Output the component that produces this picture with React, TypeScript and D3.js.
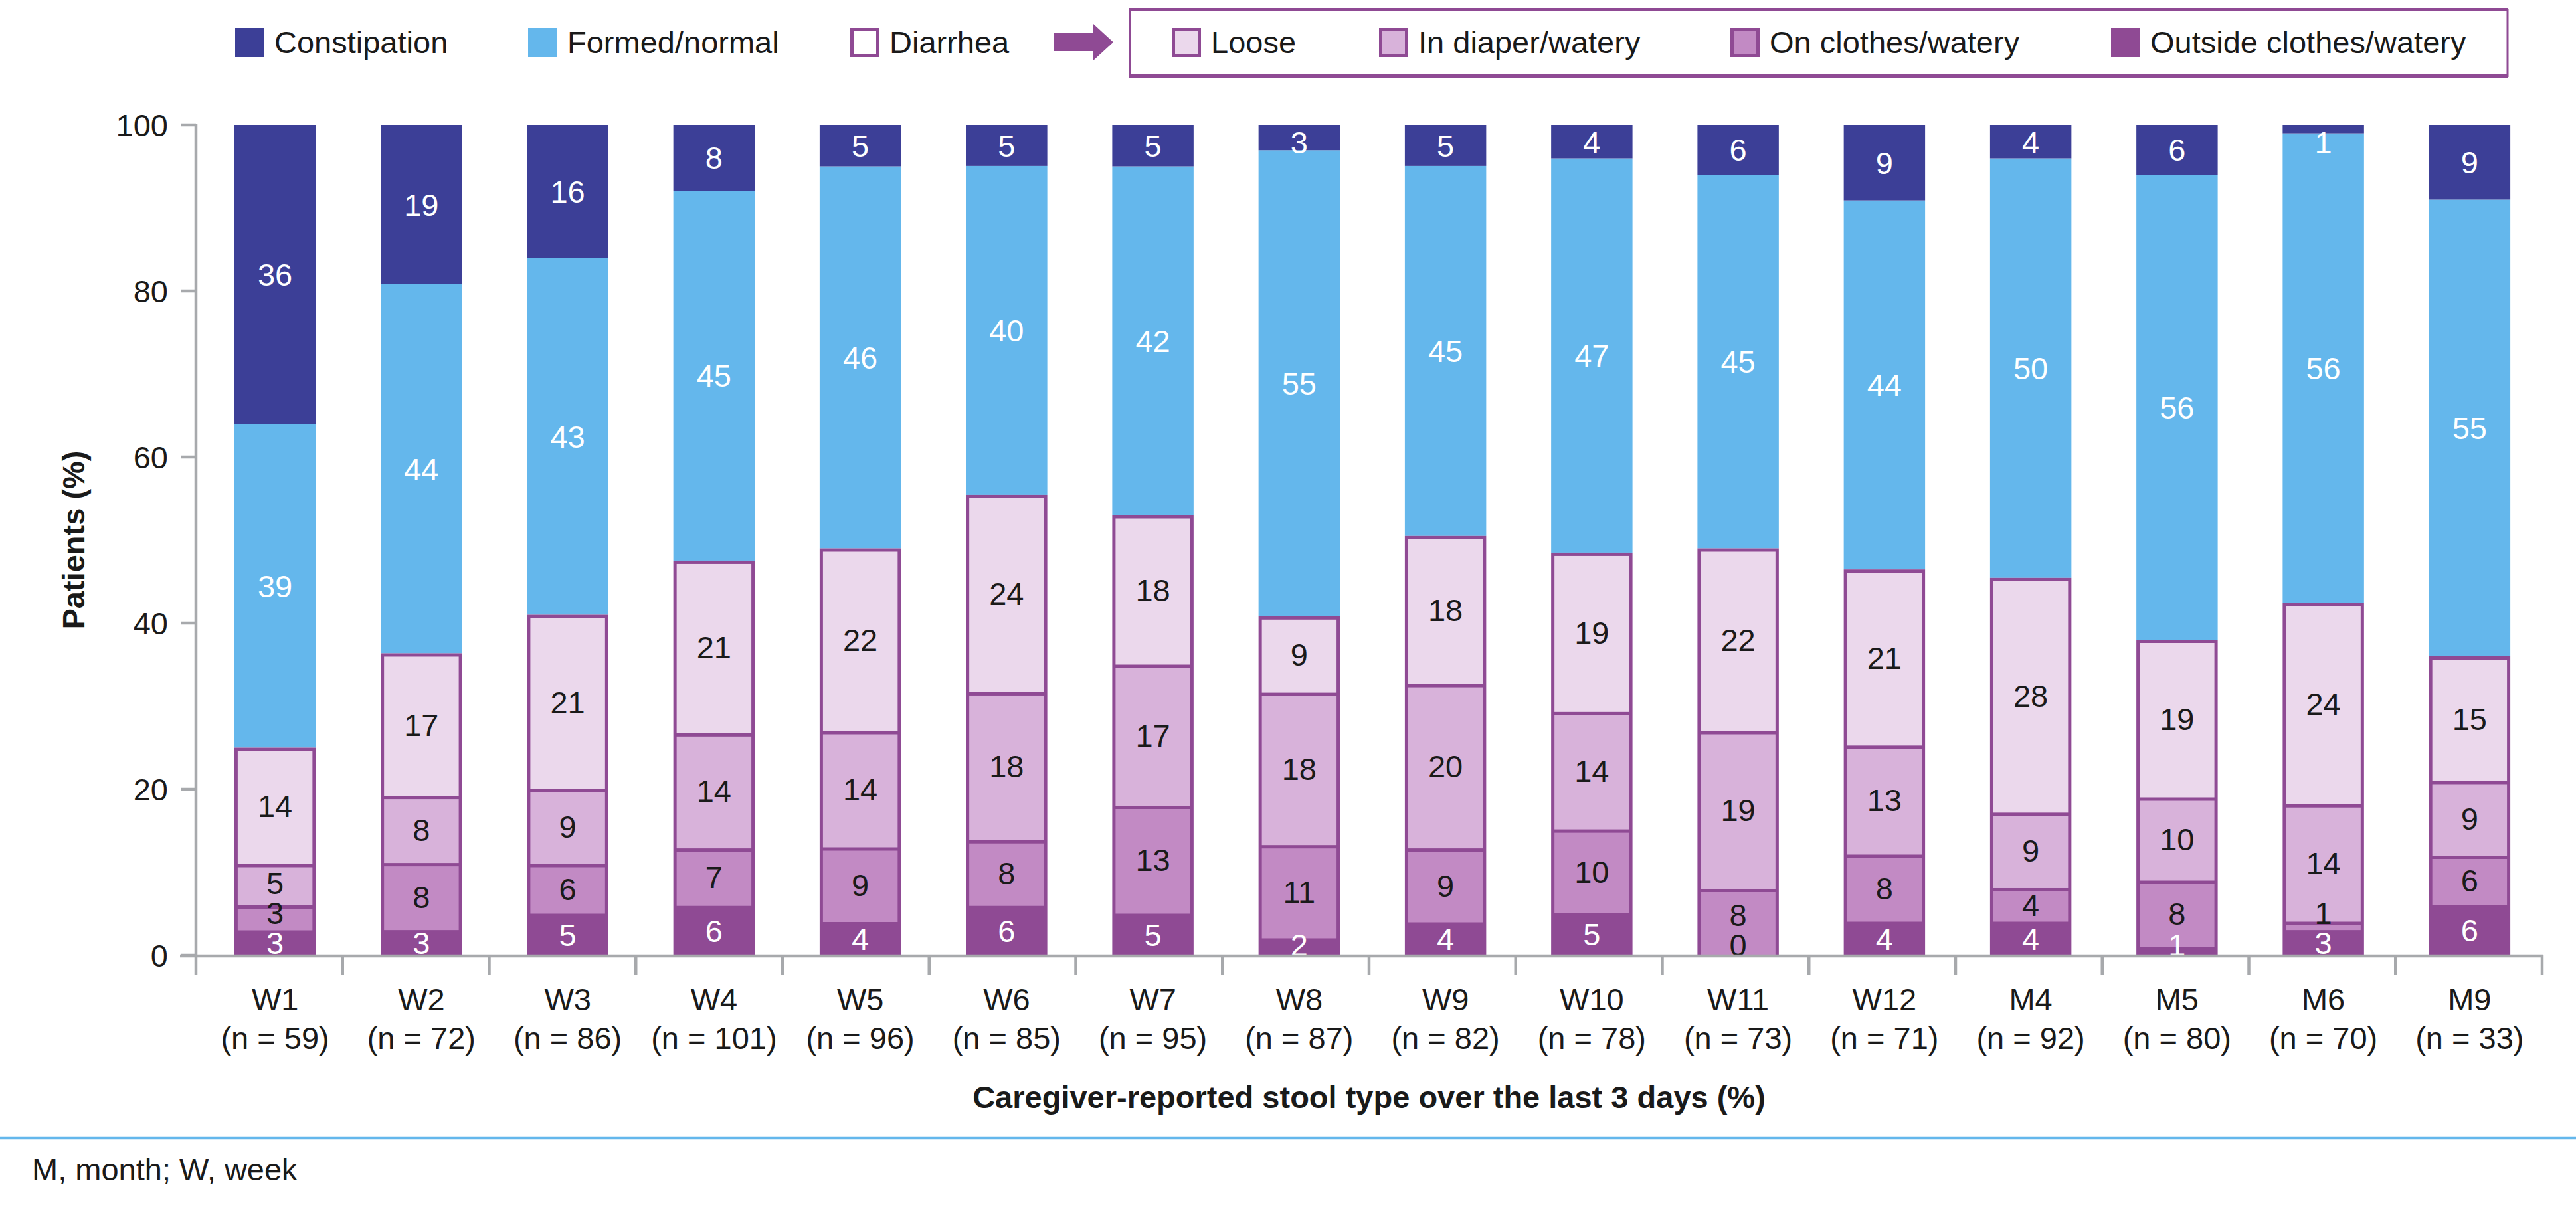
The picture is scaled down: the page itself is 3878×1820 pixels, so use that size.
import React, { useEffect } from "react";
import * as d3 from "d3";

// stool type per visit, % of patients (labels)
const categories = ["W1", "W2", "W3", "W4", "W5", "W6", "W7", "W8", "W9", "W10", "W11", "W12", "M4", "M5", "M6", "M9"];
const nValues = [59, 72, 86, 101, 96, 85, 95, 87, 82, 78, 73, 71, 92, 80, 70, 33];

const outsideClothes = [3, 3, 5, 6, 4, 6, 5, 2, 4, 5, 0, 4, 4, 1, 3, 6];
const onClothes = [3, 8, 6, 7, 9, 8, 13, 11, 9, 10, 8, 8, 4, 8, 1, 6];
const inDiaper = [5, 8, 9, 14, 14, 18, 17, 18, 20, 14, 19, 13, 9, 10, 14, 9];
const loose = [14, 17, 21, 21, 22, 24, 18, 9, 18, 19, 22, 21, 28, 19, 24, 15];
const formed = [39, 44, 43, 45, 46, 40, 42, 55, 45, 47, 45, 44, 50, 56, 56, 55];
const constipation = [36, 19, 16, 8, 5, 5, 5, 3, 5, 4, 6, 9, 4, 6, 1, 9];

const yTicks = [0, 20, 40, 60, 80, 100];

const keys = ["outside", "clothes", "diaper", "loose", "formed", "constipation"] as const;
type Key = (typeof keys)[number];

const C = {
  navy: "#3c3f97",
  blue: "#64b7ec",
  purple: "#8f4a94",
  loose: "#ebd8ec",
  diaper: "#d8b2da",
  clothes: "#c28ac4",
  grey: "#a7a9ac",
  text: "#1a1a1a",
};

const innerFill: Record<string, string> = {
  loose: C.loose,
  diaper: C.diaper,
  clothes: C.clothes,
};

const FONT = "'Liberation Sans', Arial, Helvetica, sans-serif";

const W = 3878;
const H = 1820;
const plot = { left: 295, right: 3827, top: 188, bottom: 1438 };

export default function App() {
  useEffect(() => {
    document.body.style.margin = "0";
  }, []);

  const rows = categories.map((c, i) => ({
    cat: c,
    outside: outsideClothes[i],
    clothes: onClothes[i],
    diaper: inDiaper[i],
    loose: loose[i],
    formed: formed[i],
    constipation: constipation[i],
  }));

  const series = d3
    .stack<any, Key>()
    .keys(keys as any)
    .offset(d3.stackOffsetExpand)(rows);

  const y = d3.scaleLinear().domain([0, 1]).range([plot.bottom, plot.top]);
  const xAxis = d3.scaleBand<string>().domain(categories).range([plot.left, plot.right]);
  const x = d3
    .scaleBand<string>()
    .domain(categories)
    .range([304, 3828])
    .paddingInner(0.444)
    .paddingOuter(0.222);
  const bw = x.bandwidth();
  const border = 5;

  const tickXs = [...categories.map((c) => xAxis(c)!), plot.right];

  // labels: centered, but small diarrhea segments get pushed apart
  const labels: { x: number; y: number; text: string; color: string }[] = [];
  categories.forEach((c, i) => {
    const cx = x(c)! + bw / 2;
    let prev = Infinity;
    series.forEach((s) => {
      const d = s[i];
      const key = s.key as Key;
      const v = (rows[i] as any)[key] as number;
      let ly = (y(d[0]) + y(d[1])) / 2;
      if (key === "outside" || key === "clothes" || key === "diaper" || key === "loose") {
        ly = Math.min(ly, plot.bottom - 16, prev - 45);
        prev = ly;
      }
      if (key === "constipation") ly = Math.max(ly, plot.top + 26);
      const white = (key === "outside" && v > 0) || key === "formed" || key === "constipation";
      labels.push({ x: cx, y: ly, text: String(v), color: white ? "#fff" : C.text });
    });
  });

  const legendLeft = [
    { label: "Constipation", x: 354, kind: "navy" },
    { label: "Formed/normal", x: 795, kind: "blue" },
    { label: "Diarrhea", x: 1280, kind: "hollow" },
  ];
  const legendRight = [
    { label: "Loose", x: 1764, kind: "loose" },
    { label: "In diaper/watery", x: 2076, kind: "diaper" },
    { label: "On clothes/watery", x: 2605, kind: "clothes" },
    { label: "Outside clothes/watery", x: 3178, kind: "outside" },
  ];

  const swatch = (kind: string, sx: number) => {
    const sy = 42;
    const s = 44;
    if (kind === "navy") return <rect x={sx} y={sy} width={s} height={s} fill={C.navy} />;
    if (kind === "blue") return <rect x={sx} y={sy} width={s} height={s} fill={C.blue} />;
    if (kind === "outside") return <rect x={sx} y={sy} width={s} height={s} fill={C.purple} />;
    const inner = kind === "hollow" ? "#fff" : innerFill[kind];
    return (
      <g>
        <rect x={sx} y={sy} width={s} height={s} fill={C.purple} />
        <rect x={sx + border} y={sy + border} width={s - 2 * border} height={s - 2 * border} fill={inner} />
      </g>
    );
  };

  return (
    <svg width={W} height={H} viewBox={`0 0 ${W} ${H}`} style={{ display: "block", fontFamily: FONT }}>
      <rect width={W} height={H} fill="#fff" />

      {/* legend */}
      <g fontSize={47} fill={C.text}>
        {legendLeft.concat(legendRight).map((l) => (
          <g key={l.label}>
            {swatch(l.kind, l.x)}
            <text x={l.x + 59} y={80}>
              {l.label}
            </text>
          </g>
        ))}
      </g>
      <path d="M1587,49 L1646,49 L1646,36 L1676,63.5 L1646,91 L1646,77 L1587,77 Z" fill={C.purple} />
      <rect x={1701} y={14.5} width={2074} height={100} fill="none" stroke={C.purple} strokeWidth={3} />
      <line x1={1700} x2={3776} y1={14.5} y2={14.5} stroke={C.purple} strokeWidth={5} />
      <line x1={1700} x2={3776} y1={114.5} y2={114.5} stroke={C.purple} strokeWidth={5} />

      {/* bars */}
      {categories.map((c, i) => {
        const bx = x(c)!;
        const segs = series.map((s) => ({ key: s.key as Key, y0: y(s[i][0]), y1: y(s[i][1]) }));
        const diarrheaTop = segs.find((s) => s.key === "loose")!.y1;
        return (
          <g key={c}>
            {segs
              .filter((s) => s.key === "formed" || s.key === "constipation")
              .map((s) => (
                <rect
                  key={s.key}
                  x={bx}
                  y={s.y1}
                  width={bw}
                  height={s.y0 - s.y1}
                  fill={s.key === "formed" ? C.blue : C.navy}
                />
              ))}
            <rect x={bx} y={diarrheaTop} width={bw} height={plot.bottom - diarrheaTop} fill={C.purple} />
            {segs
              .filter((s) => innerFill[s.key])
              .map((s) => (
                <rect
                  key={s.key}
                  x={bx + border}
                  y={s.y1 + border}
                  width={bw - 2 * border}
                  height={Math.max(0, s.y0 - s.y1 - border)}
                  fill={innerFill[s.key]}
                />
              ))}
          </g>
        );
      })}

      {/* value labels */}
      <g fontSize={47} textAnchor="middle">
        {labels.map((l, i) => (
          <text key={i} x={l.x} y={l.y} dy="0.36em" fill={l.color}>
            {l.text}
          </text>
        ))}
      </g>

      {/* y axis */}
      <g stroke={C.grey} strokeWidth={4.5} fill="none">
        <line x1={plot.left} x2={plot.left} y1={plot.top - 2} y2={plot.bottom} />
        {yTicks.map((t) => (
          <line key={t} x1={plot.left - 23} x2={plot.left} y1={y(t / 100)} y2={y(t / 100)} />
        ))}
      </g>
      <g fontSize={47} textAnchor="end" fill={C.text}>
        {yTicks.map((t) => (
          <text key={t} x={253} y={y(t / 100)} dy="0.36em">
            {t}
          </text>
        ))}
      </g>
      <text
        transform={`translate(127, ${(plot.top + plot.bottom) / 2}) rotate(-90)`}
        textAnchor="middle"
        fontSize={47}
        fontWeight="bold"
        fill={C.text}
      >
        Patients (%)
      </text>

      {/* x axis */}
      <g stroke={C.grey} strokeWidth={4.5} fill="none">
        <line x1={plot.left - 24} x2={plot.right + 2} y1={plot.bottom + 1} y2={plot.bottom + 1} />
        {tickXs.map((tx, i) => (
          <line key={i} x1={tx} x2={tx} y1={plot.bottom} y2={plot.bottom + 30} />
        ))}
      </g>
      <g fontSize={47} textAnchor="middle" fill={C.text}>
        {categories.map((c, i) => (
          <g key={c}>
            <text x={x(c)! + bw / 2} y={1521}>
              {c}
            </text>
            <text x={x(c)! + bw / 2} y={1579}>
              {`(n = ${nValues[i]})`}
            </text>
          </g>
        ))}
      </g>
      <text
        x={(plot.left + plot.right) / 2}
        y={1668}
        textAnchor="middle"
        fontSize={47}
        fontWeight="bold"
        fill={C.text}
      >
        Caregiver-reported stool type over the last 3 days (%)
      </text>

      {/* footnote */}
      <line x1={0} x2={W} y1={1713} y2={1713} stroke={C.blue} strokeWidth={4.5} />
      <text x={48} y={1777} fontSize={47} fill={C.text}>
        M, month; W, week
      </text>
    </svg>
  );
}
